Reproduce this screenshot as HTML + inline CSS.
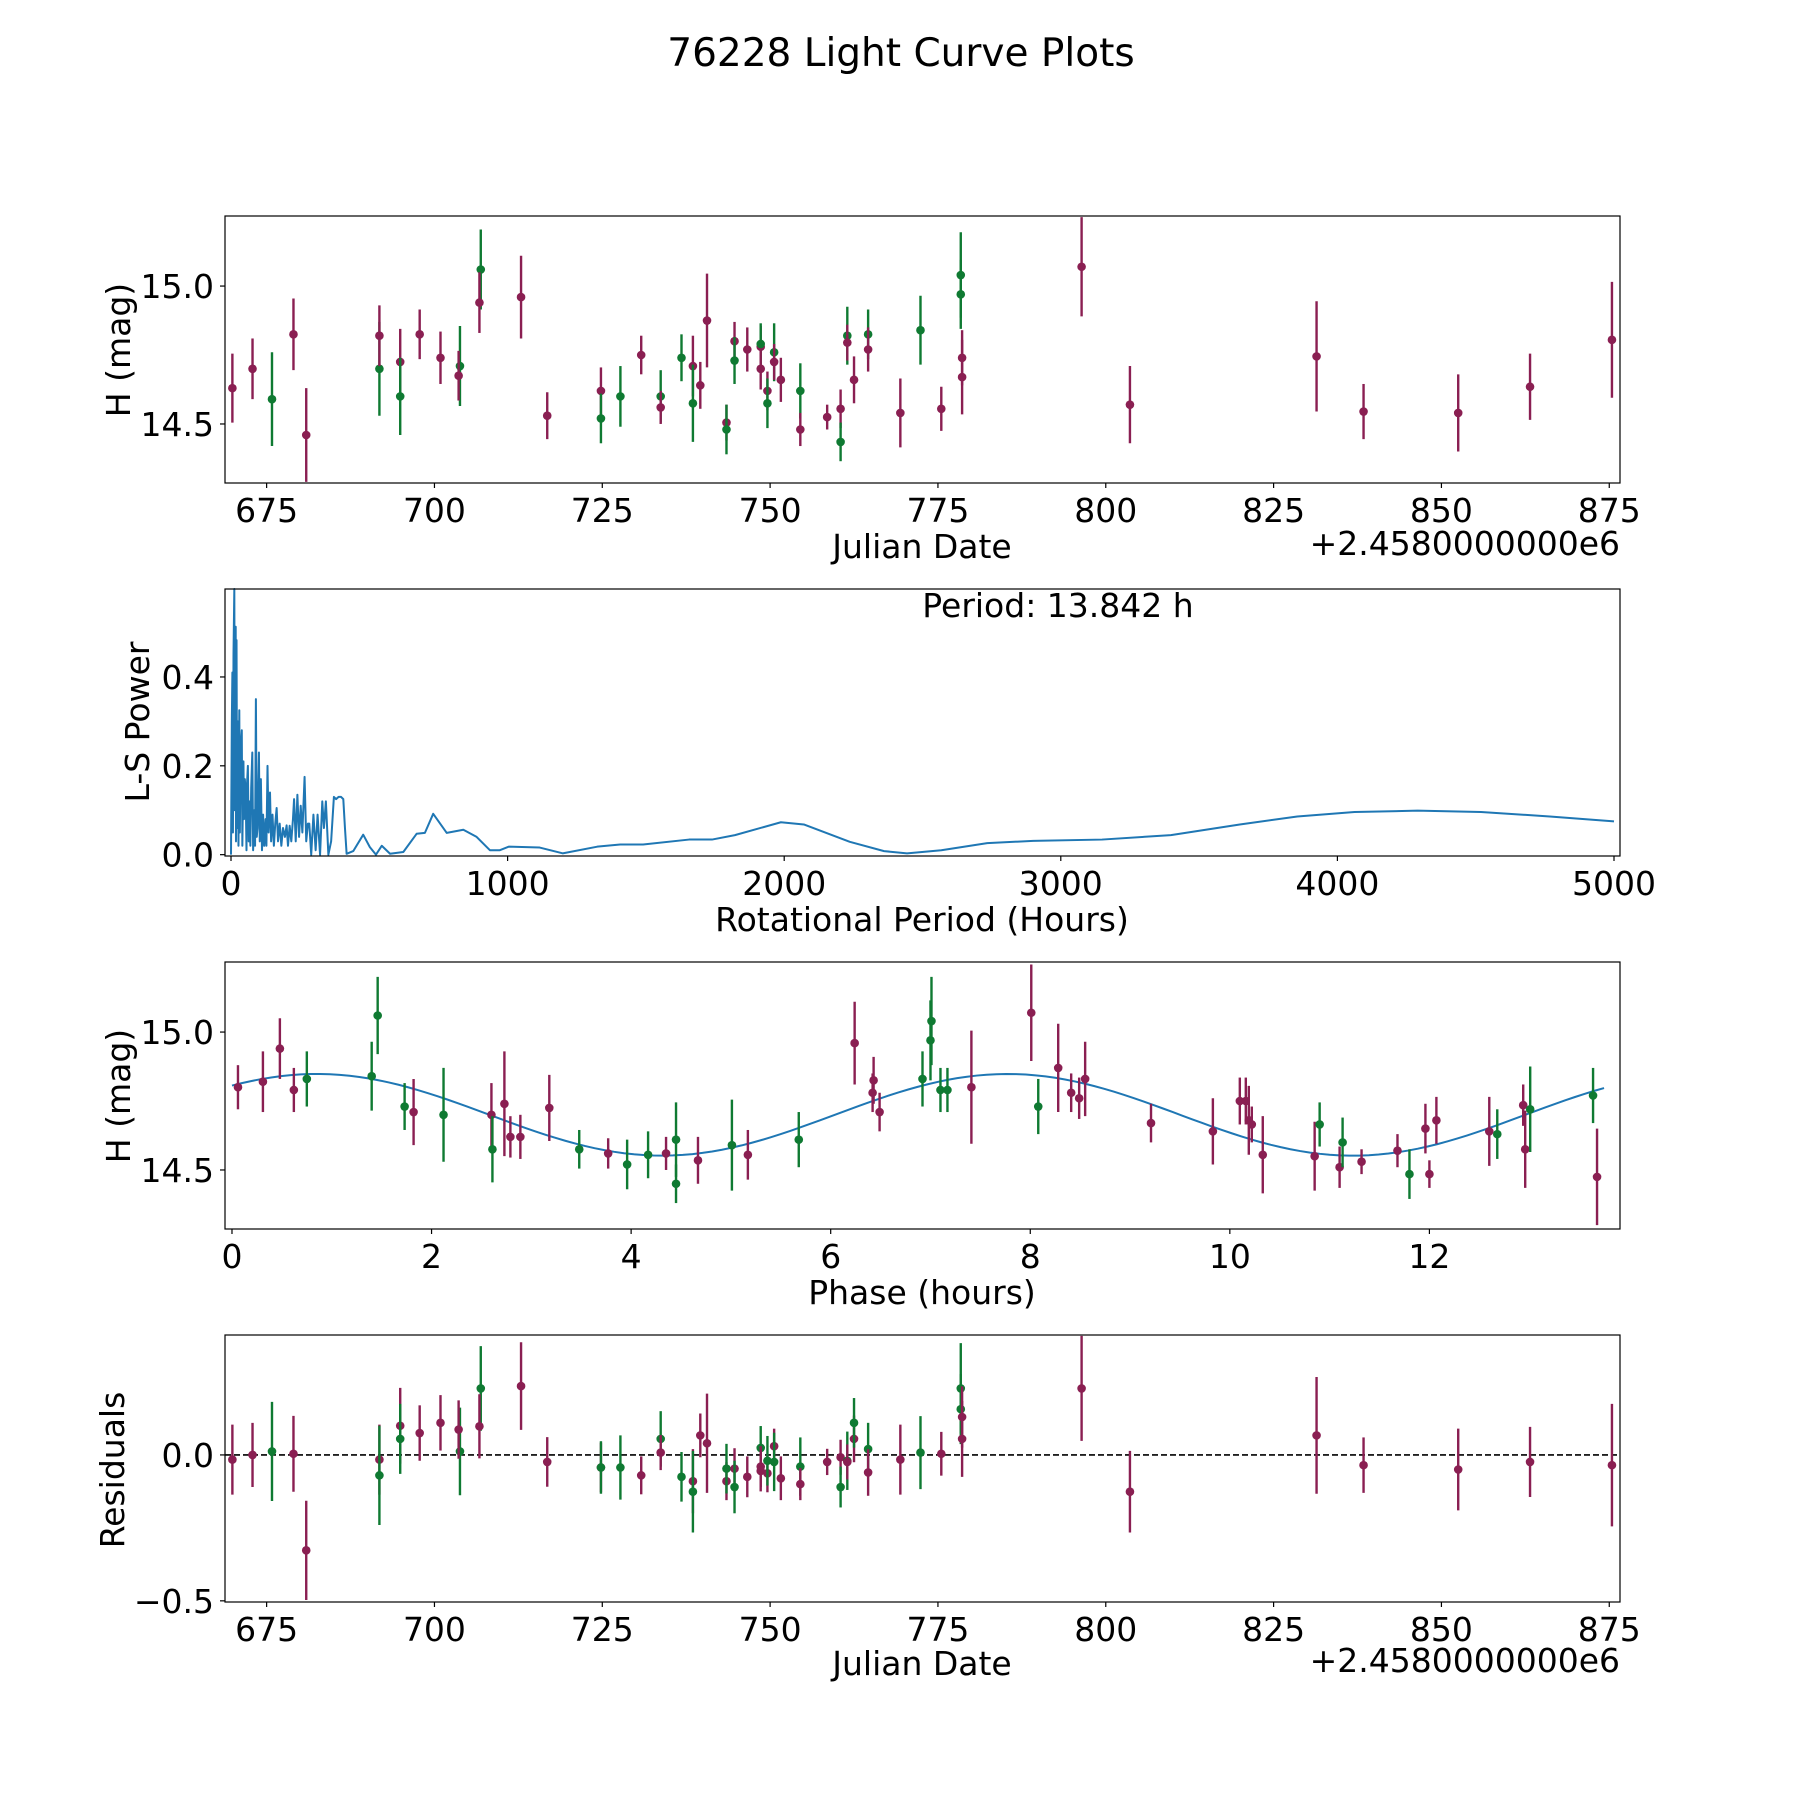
<!DOCTYPE html>
<html><head><meta charset="utf-8"><style>
html,body{margin:0;padding:0;background:#fff}
svg{display:block;font-family:"DejaVu Sans","Liberation Sans",sans-serif}
</style></head><body>
<svg id="fig" xmlns="http://www.w3.org/2000/svg" width="1800" height="1800" viewBox="0 0 1800 1800">
<rect x="0" y="0" width="1800" height="1800" fill="#fff"/>
<text x="901" y="66" font-size="39" text-anchor="middle">76228 Light Curve Plots</text>
</svg>
<script>
// ---------- Panel 1: light curve ----------
const lcDates=[669.9,672.9,675.8,679.0,680.9,691.8,691.8,694.9,694.9,697.8,700.9,703.8,703.6,706.9,706.7,712.9,716.8,724.8,724.8,727.7,730.8,733.7,733.7,736.8,738.5,738.5,739.6,740.6,743.5,743.5,744.7,744.7,746.6,748.6,748.6,748.6,749.6,749.6,750.6,750.6,751.6,754.5,754.5,758.5,760.5,760.5,761.5,761.5,762.5,764.6,764.6,769.4,772.4,775.5,778.4,778.4,778.6,778.6,796.4,803.6,831.4,838.4,852.5,863.2,875.4];
const lcMags=[14.63,14.70,14.59,14.825,14.46,14.70,14.82,14.725,14.60,14.825,14.74,14.71,14.675,15.06,14.94,14.96,14.53,14.62,14.52,14.60,14.75,14.60,14.56,14.74,14.71,14.575,14.64,14.875,14.505,14.48,14.80,14.73,14.77,14.78,14.79,14.70,14.62,14.575,14.76,14.725,14.66,14.62,14.48,14.525,14.555,14.435,14.82,14.795,14.66,14.825,14.77,14.54,14.84,14.555,15.04,14.97,14.74,14.67,15.07,14.57,14.745,14.545,14.54,14.635,14.805];
const lcErrs=[0.125,0.11,0.17,0.13,0.17,0.17,0.11,0.12,0.14,0.09,0.095,0.145,0.09,0.145,0.11,0.15,0.085,0.085,0.09,0.11,0.07,0.095,0.06,0.085,0.11,0.14,0.085,0.17,0.065,0.09,0.07,0.085,0.08,0.075,0.075,0.075,0.07,0.09,0.105,0.065,0.08,0.1,0.06,0.045,0.07,0.07,0.105,0.065,0.085,0.09,0.08,0.125,0.125,0.08,0.155,0.125,0.1,0.135,0.18,0.14,0.2,0.1,0.14,0.12,0.21];
const lcBands=["p","p","g","p","p","g","p","p","g","p","p","g","p","g","p","p","p","p","g","g","p","g","p","g","p","g","p","p","p","g","p","g","p","p","g","p","p","g","g","p","p","g","p","p","p","g","g","p","p","g","p","p","g","p","g","g","p","p","p","p","p","p","p","p","p"];
// ---------- Panel 2: periodogram ----------
const lsPeriods=[0,3,5,7,9,12,14,17,18,20,22,25,27,30,32,35,39,41,45,47,50,53,56,58,61,64,67,70,73,77,80,84,87,90,93,96,101,104,108,112,116,120,125,128,132,136,141,145,150,155,160,165,170,176,182,188,195,201,206,212,218,224,228,234,240,246,252,258,266,272,278,283,290,298,306,313,322,330,336,343,352,362,372,380,389,398,406,412,418,442,478,502,524,545,575,623,671,701,731,780,840,888,936,972,1004,1116,1199,1324,1407,1490,1656,1739,1822,1988,2071,2237,2361,2444,2568,2734,2900,3149,3398,3647,3855,4062,4290,4519,4768,5000];
const lsPowers=[0.0,0.30,0.41,0.05,0.45,0.598,0.10,0.513,0.03,0.483,0.06,0.30,0.02,0.325,0.05,0.24,0.28,0.02,0.21,0.08,0.17,0.14,0.01,0.16,0.20,0.03,0.12,0.02,0.15,0.23,0.01,0.10,0.02,0.35,0.04,0.06,0.23,0.03,0.17,0.01,0.09,0.02,0.08,0.02,0.20,0.05,0.14,0.03,0.09,0.02,0.07,0.105,0.03,0.07,0.02,0.06,0.04,0.066,0.02,0.065,0.03,0.08,0.125,0.03,0.135,0.04,0.11,0.05,0.175,0.03,0.07,0.07,0.0,0.09,0.01,0.09,0.0,0.12,0.06,0.12,0.0,0.03,0.13,0.125,0.13,0.13,0.125,0.06,0.002,0.008,0.045,0.017,0.0,0.02,0.002,0.006,0.047,0.049,0.092,0.049,0.056,0.04,0.01,0.01,0.018,0.016,0.003,0.018,0.023,0.023,0.034,0.034,0.044,0.073,0.068,0.029,0.008,0.003,0.01,0.026,0.031,0.034,0.044,0.068,0.086,0.096,0.099,0.096,0.086,0.075];
// ---------- Panel 3: phased curve ----------
const phHours=[0.06,0.31,0.48,0.62,0.75,1.40,1.46,1.73,1.82,2.12,2.60,2.61,2.73,2.79,2.89,3.18,3.48,3.77,3.96,4.17,4.35,4.45,4.45,4.67,5.01,5.17,5.68,6.24,6.43,6.42,6.49,6.92,7.0,7.01,7.10,7.17,7.41,8.01,8.08,8.28,8.41,8.49,8.55,9.21,9.83,10.10,10.16,10.19,10.22,10.33,10.85,10.90,11.10,11.13,11.32,11.68,11.80,11.96,12.0,12.07,12.60,12.68,12.94,12.96,13.01,13.64,13.68];
const phMags=[14.80,14.82,14.94,14.79,14.83,14.84,15.06,14.73,14.71,14.70,14.70,14.575,14.74,14.62,14.62,14.725,14.575,14.56,14.52,14.555,14.56,14.61,14.45,14.535,14.59,14.555,14.61,14.96,14.825,14.78,14.71,14.83,14.97,15.04,14.79,14.79,14.80,15.07,14.73,14.87,14.78,14.76,14.83,14.67,14.64,14.75,14.75,14.68,14.665,14.555,14.55,14.665,14.51,14.60,14.53,14.57,14.485,14.65,14.485,14.68,14.64,14.63,14.735,14.575,14.72,14.77,14.475];
const phErrs=[0.08,0.11,0.11,0.08,0.1,0.125,0.14,0.085,0.12,0.17,0.115,0.12,0.19,0.075,0.08,0.12,0.07,0.055,0.09,0.085,0.06,0.135,0.07,0.085,0.165,0.09,0.1,0.15,0.085,0.07,0.07,0.1,0.145,0.16,0.08,0.08,0.205,0.175,0.1,0.16,0.07,0.075,0.135,0.07,0.12,0.085,0.085,0.125,0.065,0.14,0.125,0.08,0.075,0.09,0.045,0.06,0.09,0.09,0.05,0.085,0.125,0.09,0.075,0.14,0.155,0.1,0.175];
const phBands=["p","p","p","p","g","g","g","g","p","g","p","g","p","p","p","p","g","p","g","g","p","g","g","p","g","p","g","p","p","p","p","g","g","g","g","g","p","p","g","p","p","p","p","p","p","p","p","p","p","p","p","g","p","g","p","p","g","p","p","p","p","g","p","p","g","g","p"];
const fitMean=[14.70];
const fitAmp=[0.148];
const fitPeakPhase=[0.85];
const fitPeriod=[13.842];
// ---------- Panel 4: residuals ----------
const resDates=[669.9,672.9,675.8,679.0,680.9,691.8,691.8,694.9,694.9,697.8,700.9,703.8,703.6,706.9,706.7,712.9,716.8,724.8,724.8,727.7,730.8,733.7,733.7,736.8,738.5,738.5,739.6,740.6,743.5,743.5,744.7,744.7,746.6,748.6,748.6,748.6,749.6,749.6,750.6,750.6,751.6,754.5,754.5,758.5,760.5,760.5,761.5,761.5,762.5,762.5,764.6,764.6,769.4,772.4,775.5,778.4,778.4,778.6,778.6,796.4,803.6,831.4,838.4,852.5,863.2,875.4];
const resVals=[-0.016,0.0,0.012,0.004,-0.327,-0.016,-0.07,0.10,0.055,0.075,0.11,0.012,0.087,0.228,0.098,0.236,-0.024,-0.043,-0.043,-0.043,-0.07,0.055,0.008,-0.075,-0.09,-0.126,0.067,0.04,-0.09,-0.047,-0.047,-0.11,-0.075,0.024,-0.04,-0.055,-0.063,-0.02,0.03,-0.024,-0.08,-0.04,-0.1,-0.024,-0.008,-0.11,-0.02,-0.024,0.055,0.11,0.02,-0.06,-0.016,0.008,0.004,0.228,0.157,0.13,0.055,0.228,-0.126,0.067,-0.035,-0.05,-0.024,-0.035];
const resErrs=[0.12,0.11,0.17,0.13,0.17,0.12,0.17,0.13,0.12,0.095,0.095,0.15,0.1,0.145,0.11,0.15,0.085,0.085,0.09,0.11,0.065,0.095,0.06,0.085,0.11,0.14,0.075,0.17,0.065,0.085,0.07,0.09,0.07,0.075,0.07,0.07,0.065,0.085,0.06,0.1,0.075,0.1,0.055,0.045,0.06,0.07,0.1,0.06,0.08,0.085,0.09,0.08,0.12,0.125,0.075,0.155,0.12,0.105,0.13,0.18,0.14,0.2,0.095,0.14,0.12,0.21];
const resBands=["p","p","g","p","p","p","g","p","g","p","p","g","p","g","p","p","p","p","g","g","p","g","p","g","p","g","p","p","p","g","p","g","p","g","p","p","p","g","p","g","p","g","p","p","p","g","g","p","p","g","g","p","p","g","p","g","g","p","p","p","p","p","p","p","p","p"];

const NS="http://www.w3.org/2000/svg";
const svg=document.getElementById('fig');
const COL={p:"#8a1f52",g:"#0f7a32"};
const FS=33;
function mk(tag,attrs,parent){const e=document.createElementNS(NS,tag);for(const k in attrs)e.setAttribute(k,attrs[k]);(parent||svg).appendChild(e);return e;}
function makeAxis(L,T,R,B,x0,x1,y0,y1){return {L,T,R,B,sx:v=>L+(v-x0)/(x1-x0)*(R-L),sy:v=>B-(v-y0)/(y1-y0)*(B-T)};}
function frame(ax,name){const r=mk('rect',{x:ax.L,y:ax.T,width:ax.R-ax.L,height:ax.B-ax.T,fill:'none',stroke:'#000','stroke-width':1.2});

}
function xticks(ax,vals,labels,name){vals.forEach((v,i)=>{const x=ax.sx(v);mk('line',{x1:x,x2:x,y1:ax.B,y2:ax.B+5,stroke:'#000','stroke-width':1.2});
const t=mk('text',{x:x,y:ax.B+39,'font-size':FS,'text-anchor':'middle'});t.textContent=labels[i];

});}
function yticks(ax,vals,labels,name){vals.forEach((v,i)=>{const y=ax.sy(v);mk('line',{x1:ax.L-5,x2:ax.L,y1:y,y2:y,stroke:'#000','stroke-width':1.2});
const t=mk('text',{x:ax.L-11,y:y+12,'font-size':FS,'text-anchor':'end'});t.textContent=labels[i];

});}
function label(x,y,txt,rot,name,anchor){const t=mk('text',{x:x,y:y,'font-size':FS,'text-anchor':anchor||'middle'});if(rot)t.setAttribute('transform','rotate(-90 '+x+' '+y+')');t.textContent=txt;

return t;}
function errPoints(ax,xs,ys,es,bs,name,clipId){const g=mk('g',{'clip-path':'url(#'+clipId+')'});


xs.forEach((xv,i)=>{const x=ax.sx(xv),c=COL[bs[i]];
const l=mk('line',{x1:x,x2:x,y1:ax.sy(ys[i]-es[i]),y2:ax.sy(ys[i]+es[i]),stroke:c,'stroke-width':2.4},g);


const d=mk('circle',{cx:x,cy:ax.sy(ys[i]),r:4.3,fill:c},g);

});}
function clip(id,ax){const cp=mk('clipPath',{id:id});mk('rect',{x:ax.L,y:ax.T-2,width:ax.R-ax.L,height:ax.B-ax.T+4},cp);}

// Panel 1
const a1=makeAxis(225,216,1620,483,668.8,876.6,14.286,15.254);
clip('c1',a1);
errPoints(a1,lcDates,lcMags,lcErrs,lcBands,'light-curve','c1');
frame(a1,'light-curve-axes');
xticks(a1,[675,700,725,750,775,800,825,850,875],['675','700','725','750','775','800','825','850','875'],'light-curve');
yticks(a1,[14.5,15.0],['14.5','15.0'],'light-curve');
label(922,558,'Julian Date',false,'light-curve-x-title');
label(1620,555,'+2.4580000000e6',false,'light-curve-x-offset','end');
label(130,350,'H (mag)',true,'light-curve-y-title');

// Panel 2
const a2=makeAxis(225,589,1620,856,-21.7,5021.7,-0.003,0.598);
clip('c2',a2);
const pg=mk('polyline',{points:lsPeriods.map((p,i)=>a2.sx(p)+','+a2.sy(lsPowers[i])).join(' '),fill:'none',stroke:'#1f77b4','stroke-width':2,'stroke-linejoin':'round','clip-path':'url(#c2)'});


frame(a2,'periodogram-axes');
xticks(a2,[0,1000,2000,3000,4000,5000],['0','1000','2000','3000','4000','5000'],'periodogram');
yticks(a2,[0,0.2,0.4],['0.0','0.2','0.4'],'periodogram');
label(922,931,'Rotational Period (Hours)',false,'periodogram-x-title');
label(149,722,'L-S Power',true,'periodogram-y-title');
label(1058,617,'Period: 13.842 h',false,'period-annotation');

// Panel 3
const a3=makeAxis(225,962,1620,1229,-0.07,13.91,14.286,15.254);
clip('c3',a3);
const fx=[];for(let k=0;k<=140;k++)fx.push(k*13.75/140);
const fit=mk('polyline',{points:fx.map(p=>a3.sx(p)+','+a3.sy(fitMean[0]+fitAmp[0]*Math.cos(2*Math.PI*2*(p-fitPeakPhase[0])/fitPeriod[0]))).join(' '),fill:'none',stroke:'#1f77b4','stroke-width':2});


errPoints(a3,phHours,phMags,phErrs,phBands,'phased','c3');
frame(a3,'phased-axes');
xticks(a3,[0,2,4,6,8,10,12],['0','2','4','6','8','10','12'],'phased');
yticks(a3,[14.5,15.0],['14.5','15.0'],'phased');
label(922,1304,'Phase (hours)',false,'phased-x-title');
label(130,1096,'H (mag)',true,'phased-y-title');

// Panel 4
const a4=makeAxis(225,1335,1620,1602,668.8,876.6,-0.504,0.411);
clip('c4',a4);
const zl=mk('line',{x1:a4.L,x2:a4.R,y1:a4.sy(0),y2:a4.sy(0),stroke:'#000','stroke-width':1.6,'stroke-dasharray':'6,3'});


errPoints(a4,resDates,resVals,resErrs,resBands,'residuals','c4');
frame(a4,'residuals-axes');
xticks(a4,[675,700,725,750,775,800,825,850,875],['675','700','725','750','775','800','825','850','875'],'residuals');
yticks(a4,[-0.5,0],['\u22120.5','0.0'],'residuals');
label(922,1675,'Julian Date',false,'residuals-x-title');
label(1620,1672,'+2.4580000000e6',false,'residuals-x-offset','end');
label(124,1470,'Residuals',true,'residuals-y-title');
</script>
</body></html>
